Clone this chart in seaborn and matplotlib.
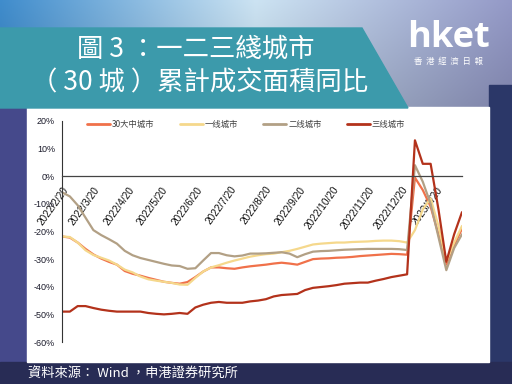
import numpy as np
import pandas as pd
import matplotlib
matplotlib.use("Agg")
import matplotlib.pyplot as plt
import matplotlib.patches as mpatches
import seaborn as sns

# weekly observations, 2022/2/20 -> 2023/2/12
weeks = pd.date_range("2022-02-20", periods=52, freq="7D")

series_names = ["30大中城市", "一线城市", "二线城市", "三线城市"]
series_colors = ["#f0714a", "#f5d88c", "#b2a085", "#b3321b"]

tier30 = [-21.8, -22.2, -24, -26.3, -28.3, -29.8, -31, -32, -34.3, -35.3,
          -36, -36.8, -37.5, -38.2, -38.6, -38.9, -38.3, -36.5, -34.5, -33,
          -33, -33.3, -33.5, -33, -32.6, -32.3, -32, -31.6, -31.3, -31.6,
          -32, -31, -30, -29.8, -29.7, -29.5, -29.4, -29.2, -28.9, -28.7,
          -28.5, -28.3, -28.1, -28.2, -28.4, -0.5, -5, -11, -21, -32,
          -25, -19]
tier1 = [-21.8, -22, -24, -26.8, -28.5, -29.5, -30.5, -32, -33.8, -34.8,
         -36.3, -37.3, -37.8, -38.2, -38.6, -39.2, -39.3, -36.8, -34.5, -33,
         -32.2, -31.3, -30.5, -29.8, -29.1, -28.6, -28.2, -28, -27.5, -27,
         -26.3, -25.5, -24.7, -24.4, -24.2, -24, -24, -23.8, -23.7, -23.6,
         -23.4, -23.3, -23.3, -23.5, -24, -19.5, -12, -8, -18, -31,
         -24, -18]
tier2 = [-5.8, -7.3, -10.5, -15, -19.5, -21.3, -22.8, -24.4, -27, -28.6,
         -29.6, -30.3, -31, -31.7, -32.3, -32.5, -33.5, -33.3, -30.5, -27.8,
         -27.8, -28.6, -29, -28.7, -28, -28, -27.9, -27.7, -27.5, -28,
         -29.3, -28.2, -27.3, -27.1, -27, -26.8, -26.6, -26.5, -26.4, -26.3,
         -26.3, -26.3, -26.3, -26.4, -26.7, 4, -2, -10, -22, -34,
         -26, -21]
tier3 = [-49, -49, -47, -47, -47.7, -48.3, -48.7, -49, -49, -49,
         -49, -49.5, -49.8, -50, -49.8, -49.5, -49.8, -47.5, -46.5, -45.8,
         -45.5, -45.8, -45.8, -45.8, -45.3, -45, -44.5, -43.5, -43, -42.8,
         -42.6, -41.2, -40.4, -40.1, -39.8, -39.4, -38.9, -38.7, -38.5, -38.5,
         -37.8, -37.2, -36.5, -36, -35.5, 13, 4.5, 4.5, -12, -31,
         -21, -13]

tick_dates = ["2022-02-20", "2022-03-20", "2022-04-20", "2022-05-20", "2022-06-20",
              "2022-07-20", "2022-08-20", "2022-09-20", "2022-10-20", "2022-11-20",
              "2022-12-20", "2023-01-20"]
tick_labels = ["2022/2/20", "2022/3/20", "2022/4/20", "2022/5/20", "2022/6/20",
               "2022/7/20", "2022/8/20", "2022/9/20", "2022/10/20", "2022/11/20",
               "2022/12/20", "2023/1/20"]
y_ticks = [20, 10, 0, -10, -20, -30, -40, -50, -60]

df = pd.DataFrame({"date": list(weeks) * 4,
                   "value": tier30 + tier1 + tier2 + tier3,
                   "series": sum([[n] * len(weeks) for n in series_names], [])})

sns.set_style("white")
plt.rcParams["font.family"] = ["Noto Sans CJK TC", "DejaVu Sans"]

W, H = 512, 384
fig = plt.figure(figsize=(5.12, 3.84), dpi=100)
fig.patch.set_facecolor("#2a3262")

# background decoration, pixel coordinates
bg = fig.add_axes([0, 0, 1, 1], zorder=-10)
bg.set_xlim(0, W)
bg.set_ylim(H, 0)
bg.axis("off")
xs = np.linspace(0, 1, 256)
c_left = np.array([0.25, 0.55, 0.80])
c_mid = np.array([0.80, 0.89, 0.95])
c_right = np.array([0.58, 0.60, 0.78])
row = np.where(xs[:, None] < 0.5,
               c_left + (c_mid - c_left) * (xs[:, None] / 0.5),
               c_mid + (c_right - c_mid) * ((xs[:, None] - 0.5) / 0.5))
grad = np.repeat(row[None, :, :], 40, axis=0)
shade = np.linspace(1.0, 0.85, 40)[:, None, None]
bg.imshow(np.clip(grad * shade, 0, 1), extent=[0, W, 110, 0], aspect="auto", zorder=0)
bg.add_patch(mpatches.Rectangle((0, 107), 27, 255, color="#45498b", zorder=1))
bg.add_patch(mpatches.Rectangle((489, 85), 23, 277, color="#2b3768", zorder=1))
bg.add_patch(mpatches.Rectangle((0, 362), W, 22, color="#282c55", zorder=1))
bg.add_patch(mpatches.Rectangle((27, 107), 462, 255, color="white", zorder=2))
bg.add_patch(mpatches.Polygon([(0, 28), (362, 28), (408, 108), (0, 108)],
                              closed=True, color="#3c9aab", zorder=3))
bg.text(196, 49, "圖 3 ：一二三綫城市", color="white", fontsize=19,
        ha="center", va="center", zorder=4)
bg.text(200, 83, "（ 30 城 ）累計成交面積同比", color="white", fontsize=19,
        ha="center", va="center", zorder=4)
bg.text(448, 38, "hket", color="white", fontsize=26, fontweight="bold",
        family=["Open Sans", "DejaVu Sans"], ha="center", va="center", zorder=4)
bg.text(448, 61, "香  港  經  濟  日  報", color="white", fontsize=6,
        ha="center", va="center", zorder=4)
bg.text(28, 374, "資料來源： Wind ，申港證券研究所", color="white", fontsize=9.5,
        ha="left", va="center", zorder=4)

# chart
ax = fig.add_axes([62 / W, 1 - 342 / H, 400 / W, 221 / H])
ax.set_facecolor("none")
sns.lineplot(data=df, x="date", y="value", hue="series", hue_order=series_names,
             palette=series_colors, linewidth=1.6, ax=ax, legend=False)

ax.set_xlim(weeks[0], weeks[-1])
ax.set_ylim(-60, 20)
ax.set_xlabel("")
ax.set_ylabel("")
for s in ["top", "right"]:
    ax.spines[s].set_visible(False)
ax.spines["left"].set_color("#333333")
ax.spines["left"].set_linewidth(0.8)
ax.spines["bottom"].set_position(("data", 0))
ax.spines["bottom"].set_color("#444444")
ax.spines["bottom"].set_linewidth(0.9)
ax.tick_params(axis="y", direction="out", length=3, width=0.6, color="#333333",
               pad=2, labelsize=6.5, labelcolor="#1a1a2a")
ax.tick_params(axis="x", direction="in", length=4, width=0.6, color="#555555",
               pad=6, labelsize=7.2, labelcolor="#111111", labelrotation=54)
ax.grid(False)

ax.set_yticks(y_ticks, labels=[f"{v}%" for v in y_ticks], family="Liberation Sans")
ax.set_xticks(pd.to_datetime(tick_dates), labels=tick_labels,
              family="Liberation Sans", rotation=54, ha="right", va="top",
              rotation_mode="anchor")
for lab in ax.get_xticklabels():
    lab.set_rotation_mode("anchor")
    lab.set_ha("right")
    lab.set_va("top")

handles = [plt.Line2D([0], [0], color=c, linewidth=2) for c in series_colors]
ax.legend(handles, series_names, ncol=4, loc="center", bbox_to_anchor=(0.46, 0.985),
          frameon=False, handlelength=2.8, handletextpad=0.2,
          columnspacing=3.0, labelcolor="#404040",
          prop={"family": ["Noto Sans CJK SC", "DejaVu Sans"], "size": 6})

fig.savefig("out.png", dpi=100, facecolor=fig.get_facecolor())
